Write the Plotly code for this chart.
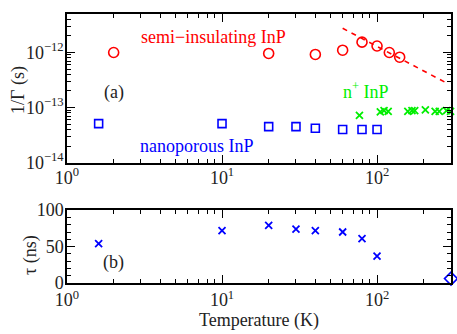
import math
import plotly.graph_objects as go

# ---------------- data ----------------
si_T = [2, 20, 40, 60, 80, 100, 120, 140]
si_G = [1.0e-12, 0.96e-12, 0.92e-12, 1.1e-12, 1.54e-12, 1.31e-12, 1.0e-12, 0.82e-12]

fit_T = [60, 280]
fit_G = [2.75e-12, 2.8e-13]

np_T = [1.6, 10, 20, 30, 40, 60, 80, 100]
np_G = [5.1e-14, 5.1e-14, 4.5e-14, 4.5e-14, 4.2e-14, 4.0e-14, 4.0e-14, 4.0e-14]

nplus_T = [77, 105, 111, 118, 158, 168, 175, 205, 237, 252, 281, 298]
nplus_G = [7.2e-14, 8.3e-14, 8.75e-14, 8.5e-14, 8.5e-14, 8.75e-14, 8.75e-14,
           9.1e-14, 8.5e-14, 8.5e-14, 8.75e-14, 8.5e-14]

tau_T = [1.6, 10, 20, 30, 40, 60, 80, 100]
tau_ns = [54, 72, 79, 74, 72, 70, 61, 37]

rt_T = [300]
rt_tau = [6]

x_tickvals = [1, 10, 100]
x_ticktext = ["10<sup>0</sup>", "10<sup>1</sup>", "10<sup>2</sup>"]
y_tickvals = [1e-14, 1e-13, 1e-12]
y_ticktext = ["10<sup>\u221214</sup>", "10<sup>\u221213</sup>", "10<sup>\u221212</sup>"]
tau_tickvals = [0, 50, 100]

# ---------------- figure ----------------
RED = "#ff0000"
GREEN = "#00ee00"
BLUE = "#0000ff"
TXT = "#222"
FONT = "Liberation Serif"

fig = go.Figure()

fig.add_trace(go.Scatter(x=si_T, y=si_G, mode="markers", xaxis="x", yaxis="y",
                         marker=dict(symbol="circle-open", size=10, color=RED,
                                     line=dict(width=1.6, color=RED)),
                         showlegend=False))
fig.add_trace(go.Scatter(x=fit_T, y=fit_G, mode="lines", xaxis="x", yaxis="y",
                         line=dict(color=RED, width=1.6, dash="5px,5px"),
                         showlegend=False))
fig.add_trace(go.Scatter(x=np_T, y=np_G, mode="markers", xaxis="x", yaxis="y",
                         marker=dict(symbol="square-open", size=8, color=BLUE,
                                     line=dict(width=1.6, color=BLUE)),
                         showlegend=False))
fig.add_trace(go.Scatter(x=nplus_T, y=nplus_G, mode="markers", xaxis="x", yaxis="y",
                         cliponaxis=False,
                         marker=dict(symbol="x-thin", size=7, color=GREEN,
                                     line=dict(width=1.8, color=GREEN)),
                         showlegend=False))

fig.add_trace(go.Scatter(x=tau_T, y=tau_ns, mode="markers", xaxis="x2", yaxis="y2",
                         marker=dict(symbol="x-thin", size=7, color=BLUE,
                                     line=dict(width=1.8, color=BLUE)),
                         showlegend=False))
fig.add_trace(go.Scatter(x=rt_T, y=rt_tau, mode="markers", xaxis="x2", yaxis="y2",
                         cliponaxis=False,
                         marker=dict(symbol="diamond-open", size=10, color=BLUE,
                                     line=dict(width=1.6, color=BLUE)),
                         showlegend=False))

xminor = [m * d for d in (1, 10, 100) for m in range(2, 10) if m * d <= 300]
yminor = [m * d for d in (1e-14, 1e-13, 1e-12) for m in range(2, 10) if m * d <= 5e-12]

common_axis = dict(showline=True, linecolor="black", linewidth=1.5, mirror="allticks",
                   ticks="inside", ticklen=8, tickwidth=1, tickcolor="black",
                   showgrid=False, zeroline=False,
                   tickfont=dict(family=FONT, size=18, color=TXT))

xr = [0, math.log10(300)]

fig.update_layout(
    width=457, height=334,
    margin=dict(l=67, r=4, t=6, b=51),
    paper_bgcolor="white", plot_bgcolor="white",
    font=dict(family=FONT, size=18, color=TXT),
    xaxis=dict(type="log", range=xr, domain=[0, 1], anchor="y",
               tickmode="array", tickvals=x_tickvals, ticktext=x_ticktext,
               ticklabelstandoff=-2,
               minor=dict(tickmode="array", tickvals=xminor, ticks="inside",
                          ticklen=4, tickcolor="black", showgrid=False),
               **common_axis),
    yaxis=dict(type="log", range=[-14, math.log10(5e-12)], domain=[0.4477, 1], anchor="x",
               tickmode="array", tickvals=y_tickvals, ticktext=y_ticktext,
               ticklabelstandoff=-2,
               minor=dict(tickmode="array", tickvals=yminor, ticks="inside",
                          ticklen=4, tickcolor="black", showgrid=False),
               **common_axis),
    xaxis2=dict(type="log", range=xr, domain=[0, 1], anchor="y2",
                tickmode="array", tickvals=x_tickvals, ticktext=x_ticktext,
                minor=dict(tickmode="array", tickvals=xminor, ticks="inside",
                           ticklen=4, tickcolor="black", showgrid=False),
                title=dict(text="Temperature (K)", standoff=0,
                           font=dict(family=FONT, size=18, color=TXT)),
                **common_axis),
    yaxis2=dict(range=[0, 100], domain=[0, 0.2708], anchor="x2",
                tickmode="array", tickvals=tau_tickvals,
                ticklabelstandoff=-2,
                minor=dict(dtick=10, ticks="inside", ticklen=4,
                           tickcolor="black", showgrid=False),
                **common_axis),
    annotations=[
        dict(text="1/\u0393 (s)", x=-0.1244, y=0.7184, xref="paper", yref="paper",
             textangle=-90, xanchor="center", yanchor="middle", showarrow=False,
             font=dict(family=FONT, size=18, color=TXT)),
        dict(text="\u03c4 (ns)", x=-0.0933, y=0.1047, xref="paper", yref="paper",
             textangle=-90, xanchor="center", yanchor="middle", showarrow=False,
             font=dict(family=FONT, size=18, color=TXT)),
        dict(text="semi\u2212insulating InP", x=0.942, y=-11.725, xref="x", yref="y",
             showarrow=False, font=dict(family=FONT, size=18, color=RED)),
        dict(text="n<sup>+</sup> InP", x=1.93, y=-12.69, xref="x", yref="y",
             showarrow=False, font=dict(family=FONT, size=18, color=GREEN)),
        dict(text="nanoporous InP", x=0.837, y=-13.707, xref="x", yref="y",
             showarrow=False, font=dict(family=FONT, size=18, color=BLUE)),
        dict(text="(a)", x=0.30, y=-12.725, xref="x", yref="y",
             showarrow=False, font=dict(family=FONT, size=18, color=TXT)),
        dict(text="(b)", x=0.30, y=28, xref="x2", yref="y2",
             showarrow=False, font=dict(family=FONT, size=18, color=TXT)),
    ],
)

fig.write_html("out.html", config={"displayModeBar": False},
               post_script="document.body.style.margin='0';document.body.style.padding='0';")
